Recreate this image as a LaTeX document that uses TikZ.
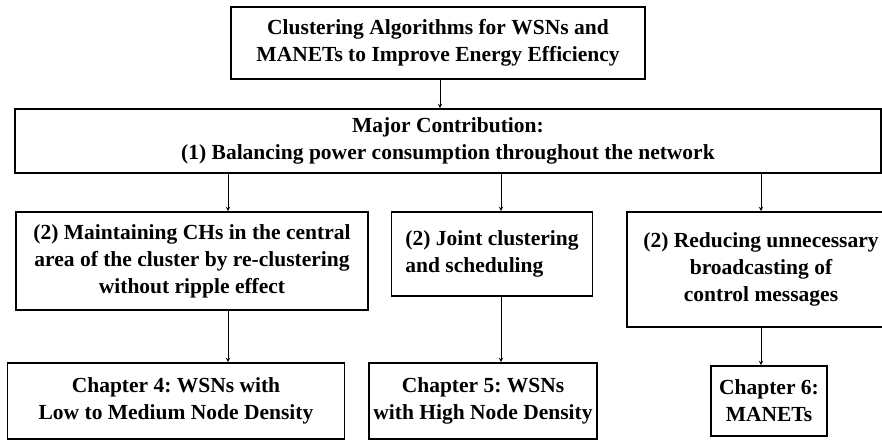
\documentclass[tikz,border=0pt]{standalone}
\usepackage{fontspec}
\setmainfont{Liberation Serif}
\frenchspacing
\begin{document}
\begin{tikzpicture}[x=1pt,y=-1pt,
  box/.style={draw, line width=1.6pt, font=\fontsize{21.5}{27}\selectfont\bfseries, align=center, inner sep=0pt},
  arr/.style={line width=1pt, ->, >=stealth}]
 \useasboundingbox (0,0) rectangle (882,443);

	% Titre et contribution
 \node[box, minimum width=414pt, minimum height=72pt] (title) at (438,43) {Clustering Algorithms for WSNs and\\MANETs to Improve Energy Efficiency};
 \node[box, minimum width=866pt, minimum height=64pt] (major) at (448,141) {Major Contribution:\\(1) Balancing power consumption throughout the network};

	% Contributions secondaires
 \node[box, minimum width=352pt, minimum height=98pt] (maint) at (192,261) {(2) Maintaining CHs in the central\\area of the cluster by re-clustering\\without ripple effect};
 \node[box, align=left, minimum width=201pt, minimum height=84pt] (joint) at (492,254) {(2) Joint clustering\\and scheduling};
 \node[box, minimum width=268pt, minimum height=115pt] (reduce) at (761,269.5) {(2) Reducing unnecessary\\broadcasting of\\control messages};

	% Chapitres
 \node[box, minimum width=337pt, minimum height=76pt] (ch4) at (176,401) {Chapter 4: WSNs with\\Low to Medium Node Density};
 \node[box, minimum width=228pt, minimum height=76pt] (ch5) at (483,401) {Chapter 5: WSNs\\with High Node Density};
 \node[box, minimum width=116pt, minimum height=70pt] (ch6) at (769,401) {Chapter 6:\\MANETs};

	% Fleches
 \draw[arr] (title.south -| 440,0) -- (major.north -| 440,0);
 \draw[arr] (major.south -| 228,0) -- (maint.north -| 228,0);
 \draw[arr] (major.south -| 501,0) -- (joint.north -| 501,0);
 \draw[arr] (major.south -| 761,0) -- (reduce.north -| 761,0);

 \draw[arr] (maint.south -| 228,0) -- (ch4.north -| 228,0);
 \draw[arr] (joint.south -| 501,0) -- (ch5.north -| 501,0);
 \draw[arr] (reduce.south -| 761,0) -- (ch6.north -| 761,0);

\end{tikzpicture}
\end{document}
